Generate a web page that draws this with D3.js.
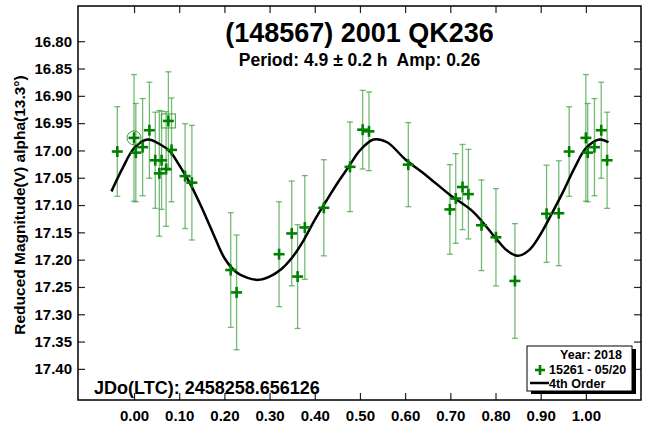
<!DOCTYPE html>
<html><head><meta charset="utf-8">
<script src="https://cdn.jsdelivr.net/npm/d3@7/dist/d3.min.js"></script>
<style>body{margin:0;background:#fff;} text{font-family:"Liberation Sans",Arial,sans-serif;font-weight:bold;white-space:pre;}</style>
</head><body><svg id="c" width="648" height="425"></svg>
<script>
// Observations: phase (0..1), reduced magnitude, error
const phases = [0.963,0.000,0.004,0.019,0.034,0.047,0.061,0.056,0.071,0.076,0.083,0.113,0.128,0.214,0.227,0.321,0.349,0.362,0.378,0.420,0.478,0.506,0.520,0.607,0.699,0.712,0.727,0.740,0.769,0.801,0.843,0.913,0.940];
const mags   = [17.002,16.977,17.004,16.994,16.963,17.018,17.018,17.042,17.034,16.946,16.999,17.047,17.059,17.219,17.260,17.190,17.152,17.231,17.141,17.105,17.030,16.962,16.965,17.026,17.108,17.088,17.067,17.080,17.137,17.159,17.239,17.116,17.115];
const errs   = [0.082,0.116,0.090,0.089,0.088,0.088,0.090,0.115,0.105,0.090,0.095,0.096,0.105,0.105,0.105,0.096,0.096,0.095,0.095,0.088,0.082,0.072,0.072,0.077,0.082,0.082,0.078,0.082,0.083,0.089,0.105,0.089,0.096];
// 4th order fit curve
const fitPhase = [-0.05,-0.025,0.00,0.03,0.06,0.08,0.10,0.125,0.15,0.175,0.20,0.225,0.25,0.275,0.30,0.325,0.35,0.375,0.40,0.425,0.45,0.475,0.50,0.53,0.56,0.60,0.65,0.70,0.75,0.80,0.825,0.85,0.875,0.90,0.925,0.95,0.975,1.00,1.03,1.05];
const fitMag   = [17.075,17.032,16.996,16.980,16.990,17.002,17.027,17.062,17.105,17.152,17.197,17.222,17.233,17.237,17.231,17.218,17.196,17.165,17.127,17.093,17.060,17.030,17.000,16.980,16.985,17.016,17.048,17.082,17.112,17.160,17.183,17.193,17.182,17.153,17.115,17.075,17.032,16.996,16.980,16.985];
const xTicks = [0.0,0.1,0.2,0.3,0.4,0.5,0.6,0.7,0.8,0.9,1.0];
const yTicks = [16.80,16.85,16.90,16.95,17.00,17.05,17.10,17.15,17.20,17.25,17.30,17.35,17.40];
const title = "(148567) 2001 QK236";
const subtitle = "Period: 4.9 \u00b1 0.2 h  Amp: 0.26";
const yLabel = "Reduced Magnitude(V) alpha(13.3\u00b0)";
const jdLabel = "JDo(LTC): 2458258.656126";
const legendLines = ["Year: 2018","15261 - 05/20","4th Order"];

const L=78,R=641,T=6,B=400;
const svg=d3.select("#c");
const x=d3.scaleLinear().domain([-0.124,1.122]).range([L,R]);
const y=d3.scaleLinear().domain([16.7355,17.457]).range([T,B]);
const green="#008000";

// wrapped points within [-0.05,1.05]
const pts=[];
phases.forEach((p,i)=>{[-1,0,1].forEach(k=>{const q=p+k;if(q>=-0.05&&q<=1.05)pts.push({p:q,m:mags[i],e:errs[i],i:i,k:k});});});

// axes (inward ticks)
const tl=7;
svg.append("g").attr("transform",`translate(0,${B})`).call(d3.axisBottom(x).tickValues(xTicks).tickSize(-tl).tickPadding(10).tickFormat(d3.format(".2f")));
svg.append("g").attr("transform",`translate(0,${T})`).call(d3.axisTop(x).tickValues(xTicks).tickSize(-tl).tickFormat(""));
svg.append("g").attr("transform",`translate(${L},0)`).call(d3.axisLeft(y).tickValues(yTicks).tickSize(-tl).tickPadding(6).tickFormat(d3.format(".2f")));
svg.append("g").attr("transform",`translate(${R},0)`).call(d3.axisRight(y).tickValues(yTicks).tickSize(-tl).tickFormat(""));
svg.selectAll(".domain").remove();
svg.selectAll(".tick line").attr("stroke","#222").attr("stroke-width",1.2);
svg.selectAll(".tick text").attr("font-size",15).attr("fill","#000").style("font-family","'Liberation Sans',Arial,sans-serif").style("font-weight","bold");
svg.append("rect").attr("x",L).attr("y",T).attr("width",R-L).attr("height",B-T).attr("fill","none").attr("stroke","#000").attr("stroke-width",1.5);

// error bars
const eb=svg.append("g").attr("stroke","#3a9e3a").attr("stroke-width",1.3).attr("stroke-opacity",0.7);
pts.forEach(d=>{
  const cx=x(d.p), y1=y(d.m-d.e), y2=y(d.m+d.e);
  eb.append("line").attr("x1",cx).attr("x2",cx).attr("y1",y1).attr("y2",y2);
  eb.append("line").attr("x1",cx-3).attr("x2",cx+3).attr("y1",y1).attr("y2",y1);
  eb.append("line").attr("x1",cx-3).attr("x2",cx+3).attr("y1",y2).attr("y2",y2);
});

// fit curve
svg.append("path").datum(fitPhase.map((p,i)=>[p,fitMag[i]]))
  .attr("d",d3.line().x(d=>x(d[0])).y(d=>y(d[1])).curve(d3.curveCatmullRom))
  .attr("fill","none").attr("stroke","#000").attr("stroke-width",2.5);

// markers
const mk=svg.append("g").attr("stroke",green).attr("stroke-width",2.6);
pts.forEach(d=>{
  const cx=x(d.p), cy=y(d.m);
  mk.append("line").attr("x1",cx-5.5).attr("x2",cx+5.5).attr("y1",cy).attr("y2",cy);
  mk.append("line").attr("x1",cx).attr("x2",cx).attr("y1",cy-5.5).attr("y2",cy+5.5);
});
// highlight circle & square
const c0=pts.find(d=>d.i===1&&d.k===0);
svg.append("circle").attr("cx",x(c0.p)).attr("cy",y(c0.m)).attr("r",7).attr("fill","none").attr("stroke","#3a9e3a").attr("stroke-width",1);
const s0=pts.find(d=>d.i===9&&d.k===0);
svg.append("rect").attr("x",x(s0.p)-7).attr("y",y(s0.m)-7).attr("width",14).attr("height",14).attr("fill","none").attr("stroke","#3a9e3a").attr("stroke-width",1);

// titles
const cxm=(L+R)/2;
svg.append("text").attr("x",cxm).attr("y",42).attr("text-anchor","middle").attr("font-size",27).text(title);
svg.append("text").attr("x",cxm).attr("y",66).attr("text-anchor","middle").attr("font-size",17.5).text(subtitle);
svg.append("text").attr("transform",`translate(25,205) rotate(-90)`).attr("text-anchor","middle").attr("font-size",15.5).text(yLabel);
svg.append("text").attr("x",94).attr("y",394).attr("font-size",18).text(jdLabel);

// legend
const lg=svg.append("g");
lg.append("rect").attr("x",531).attr("y",349).attr("width",105).attr("height",45).attr("fill","#000");
lg.append("rect").attr("x",527).attr("y",346).attr("width",105).attr("height",45).attr("fill","#fff").attr("stroke","#000").attr("stroke-width",1);
lg.append("text").attr("x",591).attr("y",359).attr("text-anchor","middle").attr("font-size",12.5).text(legendLines[0]);
lg.append("line").attr("x1",535).attr("x2",545).attr("y1",370).attr("y2",370).attr("stroke",green).attr("stroke-width",2.6);
lg.append("line").attr("x1",540).attr("x2",540).attr("y1",365).attr("y2",375).attr("stroke",green).attr("stroke-width",2.6);
lg.append("text").attr("x",549).attr("y",374).attr("font-size",12.5).text(legendLines[1]);
lg.append("line").attr("x1",530).attr("x2",549).attr("y1",383).attr("y2",383).attr("stroke","#000").attr("stroke-width",2.5);
lg.append("text").attr("x",549).attr("y",388).attr("font-size",12.5).text(legendLines[2]);
</script></body></html>
